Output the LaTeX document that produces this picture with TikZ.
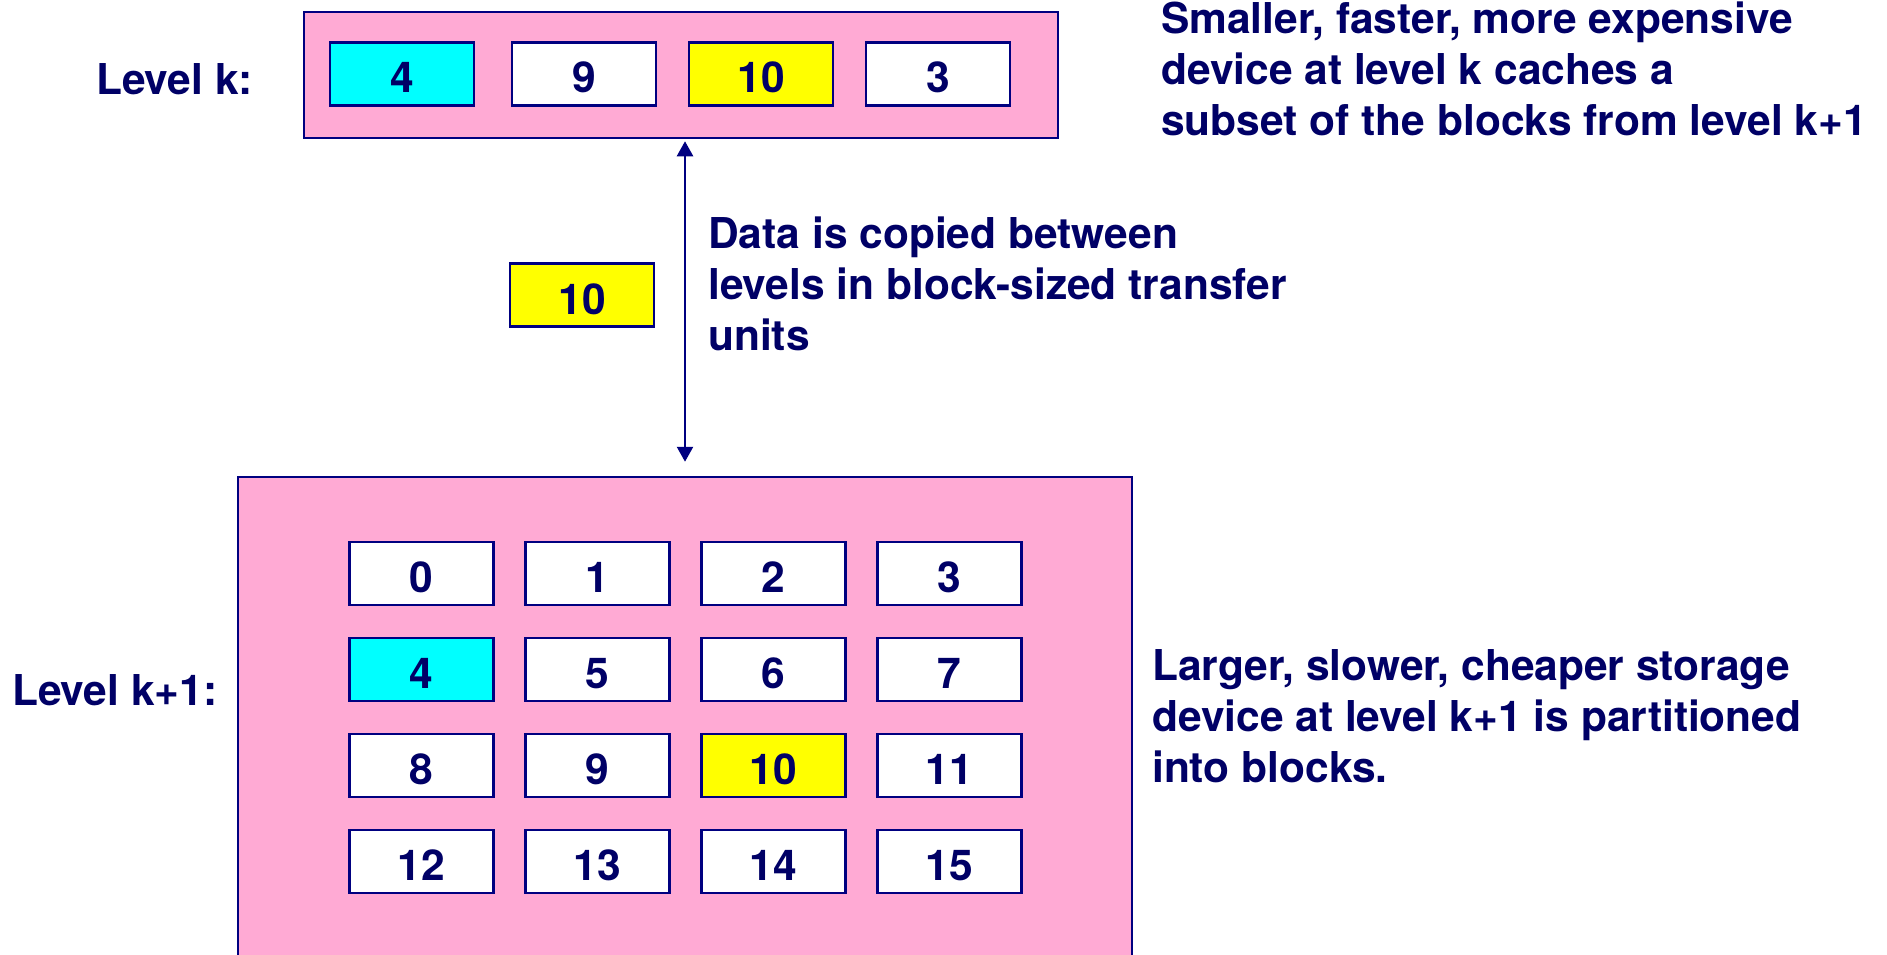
\documentclass[tikz,border=0pt]{standalone}
\usepackage{fontspec}
\setmainfont{TeX Gyre Heros}
\usetikzlibrary{arrows.meta}
\definecolor{ink}{RGB}{0,0,102}
\definecolor{edge}{RGB}{0,0,128}
\definecolor{pinkfill}{RGB}{255,170,212}
\definecolor{cyanfill}{RGB}{0,255,255}
\definecolor{yellowfill}{RGB}{255,255,0}
\begin{document}
\begin{tikzpicture}[x=1pt,y=-1pt,
  txt/.style={text=ink,font=\fontsize{42.5}{51}\selectfont\bfseries,inner sep=0pt},
  blk/.style={draw=edge,line width=2.5pt,fill=white,minimum width=144pt,minimum height=63pt,
              inner sep=0pt,text height=38pt,text depth=0pt,text=ink,font=\fontsize{42.5}{51}\selectfont\bfseries},
  levelbox/.style={draw=edge,line width=2.5pt,fill=pinkfill,inner sep=0pt},
  arr/.style={{Triangle[length=15pt,width=16pt]}-{Triangle[length=15pt,width=16pt]},draw=edge,line width=2.5pt}
]
\useasboundingbox (0,0) rectangle (1887,955);
\clip (0,0) rectangle (1887,955);

% level boxes
\node[levelbox,minimum width=754pt,minimum height=126pt] (lk) at (681,75) {};
\node[levelbox,minimum width=894pt,minimum height=493pt] (lkk) at (685,723.5) {};

% level k blocks
\node[blk,fill=cyanfill] (k4) at (402,74) {4};
\node[blk] (k9) at (584,74) {9};
\node[blk,fill=yellowfill] (k10) at (761,74) {10};
\node[blk] (k3) at (938,74) {3};

% level k+1 blocks
\foreach \n/\c/\r in {0/0/0,1/1/0,2/2/0,3/3/0,4/0/1,5/1/1,6/2/1,7/3/1,8/0/2,9/1/2,10/2/2,11/3/2,12/0/3,13/1/3,14/2/3,15/3/3}{
  \node[blk] (b\n) at ({421.5+176*\c},{573.5+96*\r}) {\n};
}
\node[blk,fill=cyanfill] at (b4) {4};
\node[blk,fill=yellowfill] at (b10) {10};

% transferred block
\node[blk,fill=yellowfill] (t10) at (582,295) {10};

% arrow
\coordinate (ax) at (685,300);
\draw[arr,shorten <=2pt,shorten >=14pt] (lk.south -| ax) -- (lkk.north -| ax);

% labels
\node[txt,anchor=base west] (lab1) at (96,95) {Level k:};
\node[txt,anchor=base west] (lab2) at (12,705) {Level k+1:};

\node[txt,align=left,anchor=north west] (d1) at (1161,2)
  {Smaller, faster, more expensive\\device at level k caches a\\subset of the blocks from level k+1};
\node[txt,align=left,anchor=north west] (d2) at (708,217)
  {Data is copied between\\levels in block-sized transfer\\units};
\node[txt,align=left,anchor=north west] (d3) at (1152,649)
  {Larger, slower, cheaper storage\\device at level k+1 is partitioned\\into blocks.};
\end{tikzpicture}
\end{document}
